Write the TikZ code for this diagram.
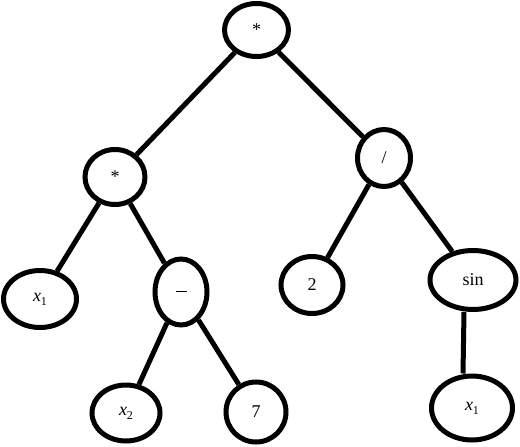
\documentclass[tikz,border=0pt]{standalone}
\usepackage{fontspec}
\setmainfont{Liberation Serif}
\usetikzlibrary{shapes.geometric}
\newcommand{\xsub}[1]{{\itshape x}\raisebox{-4pt}{\fontsize{12}{14}\selectfont #1}}
\begin{document}
\begin{tikzpicture}[x=1pt,y=-1pt,
  tn/.style={ellipse,draw,line width=5pt,inner sep=0pt,font=\fontsize{18}{20}\selectfont},
  edge/.style={line width=5pt}]
\useasboundingbox (0,0) rectangle (520,447);
\node[tn,minimum width=64pt,minimum height=53pt] (root) at (256.5,30) {*};
\node[tn,minimum width=60pt,minimum height=55pt] (lstar) at (115,177) {*};
\node[tn,minimum width=53pt,minimum height=57pt] (div) at (384,158) {/};
\node[tn,minimum width=73pt,minimum height=57pt] (xa) at (40,299) {\xsub{1}};
\node[tn,minimum width=52pt,minimum height=66pt] (minus) at (181,292) {\raisebox{2pt}{\rule{11pt}{0.9pt}}};
\node[tn,minimum width=62pt,minimum height=57pt] (two) at (312,285) {2};
\node[tn,minimum width=86pt,minimum height=59pt] (sin) at (473,280) {sin};
\node[tn,minimum width=68pt,minimum height=56pt] (xb) at (126,413) {\xsub{2}};
\node[tn,minimum width=60pt,minimum height=60pt] (seven) at (256,412) {7};
\node[tn,minimum width=81pt,minimum height=64pt] (xc) at (472,408) {\xsub{1}};
\draw[edge] (root) -- (lstar);
\draw[edge] (root) -- (div);
\draw[edge] (lstar) -- (xa);
\draw[edge] (lstar) -- (minus);
\draw[edge] (minus) -- (xb);
\draw[edge] (minus) -- (seven);
\draw[edge] (div) -- (two);
\draw[edge] (div) -- (sin);
\draw[edge] ([xshift=-9pt]sin.south) -- ([xshift=-9pt]xc.north);
\end{tikzpicture}
\end{document}
